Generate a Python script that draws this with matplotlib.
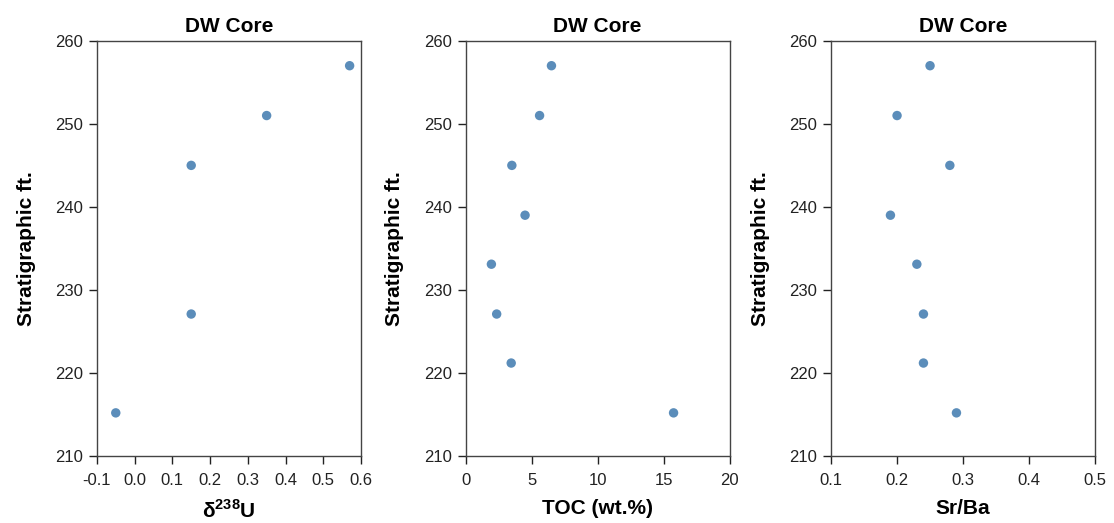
import matplotlib
matplotlib.use("Agg")
import matplotlib.pyplot as plt

plt.rcParams['font.family'] = ['Liberation Sans', 'DejaVu Sans']
plt.rcParams['axes.unicode_minus'] = False
plt.rcParams['mathtext.fontset'] = 'custom'
plt.rcParams['mathtext.rm'] = 'Liberation Sans'
plt.rcParams['mathtext.bf'] = 'Liberation Sans:bold'

# depths (ft) for each sample
depth = [257.0, 251.0, 245.0, 239.0, 233.1, 227.1, 221.2, 215.2]

# uranium isotopes (only 5 samples measured)
u_depth = [257.0, 251.0, 245.0, 227.1, 215.2]
d238u = [0.57, 0.35, 0.15, 0.15, -0.05]

toc = [6.5, 5.6, 3.5, 4.5, 1.95, 2.35, 3.45, 15.75]
srba = [0.25, 0.20, 0.28, 0.19, 0.23, 0.24, 0.24, 0.29]

panels = [
    (u_depth, d238u, "δ$^{\\mathbf{238}}$U", (-0.1, 0.6), [-0.1, 0.0, 0.1, 0.2, 0.3, 0.4, 0.5, 0.6], "{:.1f}"),
    (depth, toc, "TOC (wt.%)", (0, 20), [0, 5, 10, 15, 20], "{:d}"),
    (depth, srba, "Sr/Ba", (0.1, 0.5), [0.1, 0.2, 0.3, 0.4, 0.5], "{:.1f}"),
]
lefts = [0.087, 0.418, 0.746]

fig = plt.figure(figsize=(11.14, 5.23), dpi=100)
for (yy, xx, xlabel, xlim, xticks, fmt), left in zip(panels, lefts):
    ax = fig.add_axes([left, 0.128, 0.237, 0.794])
    ax.scatter(xx, yy, s=46, color='#5b8dba', edgecolors='none', zorder=3)
    ax.set_xlim(*xlim)
    ax.set_ylim(210, 260)
    ax.set_xticks(xticks)
    ax.set_xticklabels([fmt.format(t) for t in xticks])
    ax.set_yticks([210, 220, 230, 240, 250, 260])
    ax.set_title("DW Core", fontsize=15, fontweight='bold', pad=6)
    ax.set_xlabel(xlabel, fontsize=15, fontweight='bold', labelpad=8)
    ax.set_ylabel("Stratigraphic ft.", fontsize=15, fontweight='bold', labelpad=14)
    ax.tick_params(direction='out', length=6, width=1, labelsize=12, colors='#222222', pad=4)
    ax.tick_params(axis='x', pad=6)
    for sp in ax.spines.values():
        sp.set_color('#444444')
        sp.set_linewidth(1.0)

fig.savefig("out.png", dpi=100)
